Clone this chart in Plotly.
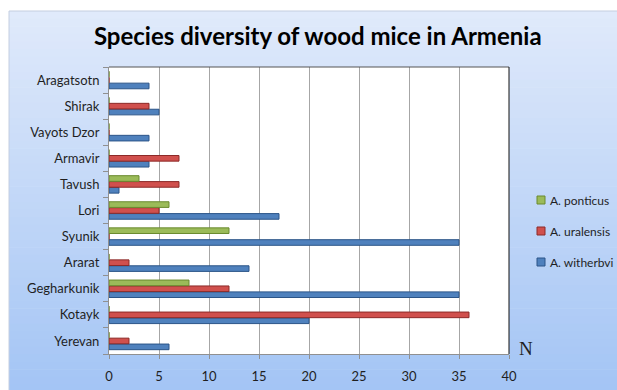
import plotly.graph_objects as go

regions = ["Yerevan", "Kotayk", "Gegharkunik", "Ararat", "Syunik", "Lori",
           "Tavush", "Armavir", "Vayots Dzor", "Shirak", "Aragatsotn"]
witherbvi = [6, 20, 35, 14, 35, 17, 1, 4, 4, 5, 4]
uralensis = [2, 36, 12, 2, 0, 5, 7, 7, 0, 4, 0]
ponticus = [0, 0, 8, 0, 12, 6, 3, 0, 0, 0, 0]
x_ticks = [0, 5, 10, 15, 20, 25, 30, 35, 40]

series = [
    ("A. witherbvi", witherbvi, "#4f81bd", "#2c5588"),
    ("A. uralensis", uralensis, "#d0504d", "#8c2a28"),
    ("A. ponticus", ponticus, "#9bbb59", "#6a8a2e"),
]

fig = go.Figure()
for name, vals, col, edge in series:
    fig.add_trace(go.Bar(
        y=regions, x=vals, name=name, orientation="h", showlegend=False,
        marker=dict(color=col, line=dict(color=edge, width=1)),
    ))

W, H = 400.0, 287.0  # plot area size in px
def px(x):
    return (x - 109) / W
def py(y):
    return (354 - y) / H

# gradient background (chart area starts at x=9, y=11) via stacked shapes
shapes = []
n = 50
c0 = (224, 234, 251)
c1 = (164, 197, 245)
y_top, y_bot = 11.0, 392.0
step = (y_bot - y_top) / n
for i in range(n):
    t = i / (n - 1)
    r = int(c0[0] + (c1[0] - c0[0]) * t)
    g = int(c0[1] + (c1[1] - c0[1]) * t)
    b = int(c0[2] + (c1[2] - c0[2]) * t)
    ya = y_top + i * step
    yb = ya + step + 0.6
    shapes.append(dict(type="rect", xref="paper", yref="paper", layer="below",
                       x0=px(9), x1=px(620), y0=py(yb), y1=py(ya),
                       fillcolor=f"rgb({r},{g},{b})", line=dict(width=0)))
# outer edge (top, left)
shapes.append(dict(type="line", xref="paper", yref="paper", layer="below",
                   x0=px(9), x1=px(620), y0=py(11), y1=py(11),
                   line=dict(color="#c4cee0", width=1)))
shapes.append(dict(type="line", xref="paper", yref="paper", layer="below",
                   x0=px(9), x1=px(9), y0=py(11), y1=py(392),
                   line=dict(color="#c4cee0", width=1)))
# plot area white
shapes.append(dict(type="rect", xref="paper", yref="paper", layer="below",
                   x0=0, x1=1, y0=0, y1=1, fillcolor="white", line=dict(width=0)))
# top and right borders
shapes.append(dict(type="line", xref="paper", yref="paper", x0=0, x1=1, y0=1, y1=1,
                   line=dict(color="#555555", width=1)))
shapes.append(dict(type="line", xref="paper", yref="paper", x0=1, x1=1, y0=0, y1=1,
                   line=dict(color="#111111", width=1)))

annotations = [dict(text="N", xref="paper", yref="paper", x=1.02, y=0.02,
                    xanchor="left", yanchor="middle", showarrow=False,
                    font=dict(family="Liberation Serif", size=19, color="#1f1f1f"))]

# legend (reversed order: ponticus on top)
leg_y = [200, 231, 262]
for (name, vals, col, edge), yy in zip(reversed(series), leg_y):
    shapes.append(dict(type="rect", xref="paper", yref="paper",
                       x0=px(537), x1=px(545), y0=py(yy + 4), y1=py(yy - 4),
                       fillcolor=col, line=dict(color=edge, width=1)))
    annotations.append(dict(text=name, xref="paper", yref="paper", x=px(548), y=py(yy),
                            xanchor="left", yanchor="middle", showarrow=False,
                            font=dict(family="Lato", size=12, color="#1f1f1f")))

fig.update_layout(
    width=617, height=390,
    margin=dict(l=109, r=108, t=67, b=36, autoexpand=False),
    paper_bgcolor="white",
    plot_bgcolor="rgba(0,0,0,0)",
    barmode="group", bargap=0.32, bargroupgap=0.05,
    shapes=shapes,
    annotations=annotations,
    title=dict(text="<b>Species diversity of wood mice in Armenia</b>",
               x=0.515, xanchor="center", y=0.905, yanchor="middle",
               font=dict(family="Lato", size=24, color="black")),
    font=dict(family="Lato", size=13, color="#1f1f1f"),
    xaxis=dict(range=[0, 40], tickvals=x_ticks, showgrid=True, gridcolor="#a6a6a6",
               gridwidth=1, zeroline=False, showline=True, linecolor="#909090",
               ticks="outside", ticklen=4, tickcolor="#909090", ticklabelstandoff=6,
               tickfont=dict(family="Lato", size=13, color="#1f1f1f")),
    yaxis=dict(showline=True, linecolor="#909090", ticks="outside", tickson="boundaries",
               ticklen=5, tickcolor="#909090", showgrid=False, ticklabelstandoff=6,
               tickfont=dict(family="Lato", size=13, color="#1f1f1f")),
    showlegend=False,
)

fig.write_html("out.html")
